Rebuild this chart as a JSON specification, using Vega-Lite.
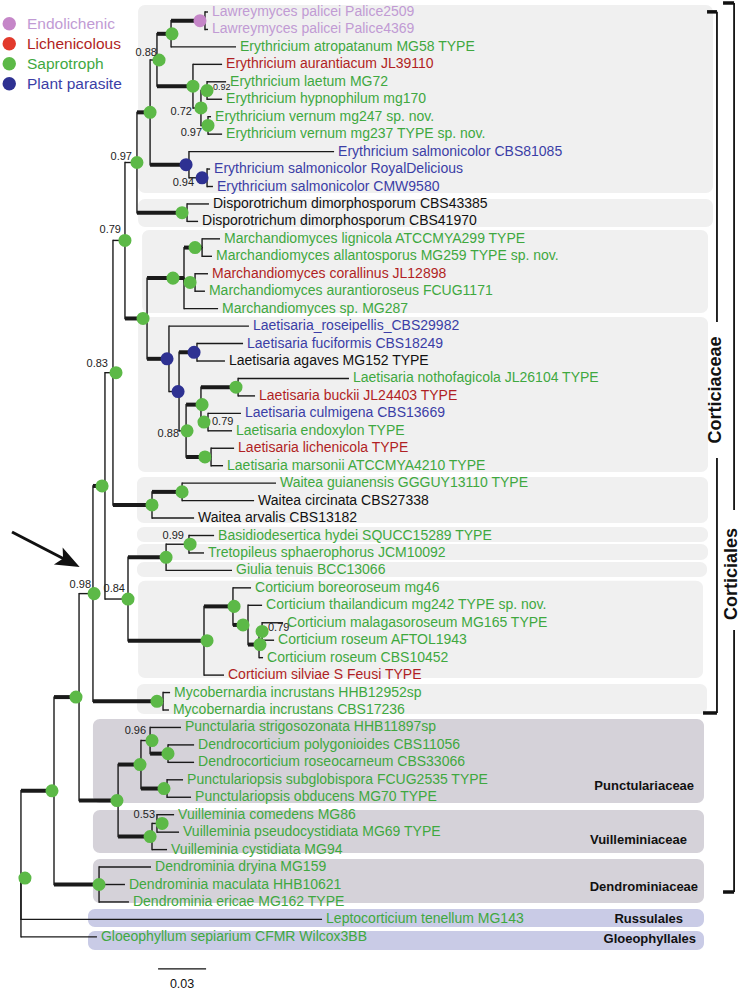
{
"$schema": "https://vega.github.io/schema/vega-lite/v6.json",
"width": 740, "height": 992,
"autosize": {"type": "none"},
"padding": 0,
"background": "white",
"config": {"font": "Liberation Sans", "view": {"stroke": null}, "axis": {"disable": true}},
"datasets": {
"boxes": [
{"clade":"Erythricium","x":0.0738,"x2":0.4331,"y":0.599,"y2":11.37,"tone":"family"},
{"clade":"Disporotrichum","x":0.0738,"x2":0.4331,"y":11.72,"y2":13.32,"tone":"family"},
{"clade":"Marchandiomyces","x":0.0763,"x2":0.43,"y":13.49,"y2":18.25,"tone":"family"},
{"clade":"Laetisaria","x":0.0738,"x2":0.43,"y":18.48,"y2":27.36,"tone":"family"},
{"clade":"Waitea","x":0.0731,"x2":0.43,"y":27.65,"y2":30.28,"tone":"family"},
{"clade":"Basidiodesertica","x":0.0731,"x2":0.43,"y":30.51,"y2":31.37,"tone":"family"},
{"clade":"Tretopileus","x":0.0731,"x2":0.43,"y":31.49,"y2":32.4,"tone":"family"},
{"clade":"Giulia","x":0.0731,"x2":0.4294,"y":32.52,"y2":33.38,"tone":"family"},
{"clade":"Corticium","x":0.0738,"x2":0.4269,"y":33.6,"y2":39.17,"tone":"family"},
{"clade":"Mycobernardia","x":0.0731,"x2":0.4294,"y":39.51,"y2":41.23,"tone":"family"},
{"clade":"Punctulariaceae","x":0.0456,"x2":0.4275,"y":41.51,"y2":46.33,"tone":"other"},
{"clade":"Vuilleminiaceae","x":0.0456,"x2":0.4275,"y":46.73,"y2":49.2,"tone":"other"},
{"clade":"Dendrominiaceae","x":0.0456,"x2":0.4275,"y":49.54,"y2":52.06,"tone":"other"},
{"clade":"Russulales","x":0.0425,"x2":0.4275,"y":52.4,"y2":53.44,"tone":"order"},
{"clade":"Gloeophyllales","x":0.0425,"x2":0.4275,"y":53.67,"y2":54.75,"tone":"order"}
],
"clades": [
{"node":"A","px":0.0006,"py":50.63,"cx":0.02125,"cy":45.63,"b":"thick"},
{"node":"C","px":0.02125,"py":45.63,"cx":0.0369,"cy":40.26,"b":"thick"},
{"node":"Dd","px":0.02125,"py":45.63,"cx":0.0494,"cy":51,"b":"thick"},
{"node":"E","px":0.0369,"py":40.26,"cx":0.0456,"cy":34.33,"b":"thin"},
{"node":"F","px":0.0369,"py":40.26,"cx":0.0613,"cy":46.19,"b":"thick"},
{"node":"R","px":0.0613,"py":46.19,"cx":0.0756,"cy":44.125,"b":"thick"},
{"node":"S","px":0.0613,"py":46.19,"cx":0.0825,"cy":48.25,"b":"thick"},
{"node":"T","px":0.0756,"py":44.125,"cx":0.0813,"cy":42.75,"b":"thin"},
{"node":"U","px":0.0756,"py":44.125,"cx":0.0919,"cy":45.5,"b":"thick"},
{"node":"V","px":0.0813,"py":42.75,"cx":0.0925,"cy":43.5,"b":"thick"},
{"node":"W","px":0.0825,"py":48.25,"cx":0.0856,"cy":47.5,"b":"thin"},
{"node":"G","px":0.0456,"py":34.33,"cx":0.0531,"cy":28.16,"b":"thick"},
{"node":"Myco","px":0.0456,"py":34.33,"cx":0.0894,"cy":40.5,"b":"thick"},
{"node":"H","px":0.0531,"py":28.16,"cx":0.0581,"cy":21.67,"b":"thin"},
{"node":"I","px":0.0531,"py":28.16,"cx":0.0675,"cy":34.64,"b":"thin"},
{"node":"J","px":0.0675,"py":34.64,"cx":0.0913,"cy":32.25,"b":"thick"},
{"node":"K","px":0.0675,"py":34.64,"cx":0.115,"cy":37.03,"b":"thick"},
{"node":"L","px":0.0913,"py":32.25,"cx":0.1056,"cy":31.5,"b":"thin"},
{"node":"M","px":0.115,"py":37.03,"cx":0.1331,"cy":35.0625,"b":"thick"},
{"node":"N","px":0.1331,"py":35.0625,"cx":0.1425,"cy":36.125,"b":"thick"},
{"node":"P","px":0.1425,"py":36.125,"cx":0.1494,"cy":37.25,"b":"thick"},
{"node":"Q","px":0.1494,"py":37.25,"cx":0.1513,"cy":36.5,"b":"thin"},
{"node":"N079","px":0.0581,"py":21.67,"cx":0.0656,"cy":14.09,"b":"thin"},
{"node":"WA","px":0.0581,"py":21.67,"cx":0.0825,"cy":29.25,"b":"thick"},
{"node":"WB","px":0.0825,"py":29.25,"cx":0.1013,"cy":28.5,"b":"thick"},
{"node":"N097","px":0.0656,"py":14.09,"cx":0.0731,"cy":9.625,"b":"thin"},
{"node":"X","px":0.0656,"py":14.09,"cx":0.0794,"cy":18.5625,"b":"thick"},
{"node":"Y","px":0.0731,"py":9.625,"cx":0.0813,"cy":6.75,"b":"thick"},
{"node":"Disp","px":0.0731,"py":9.625,"cx":0.1044,"cy":12.5,"b":"thick"},
{"node":"Z","px":0.0813,"py":6.75,"cx":0.0856,"cy":3.75,"b":"thin"},
{"node":"AA","px":0.0813,"py":6.75,"cx":0.1056,"cy":9.75,"b":"thick"},
{"node":"BB","px":0.0856,"py":3.75,"cx":0.0944,"cy":2.25,"b":"thick"},
{"node":"CC","px":0.0856,"py":3.75,"cx":0.1081,"cy":5.25,"b":"thick"},
{"node":"DD","px":0.0944,"py":2.25,"cx":0.1156,"cy":1.5,"b":"thick"},
{"node":"EE","px":0.1081,"py":5.25,"cx":0.1131,"cy":6.5,"b":"thin"},
{"node":"FF","px":0.1131,"py":6.5,"cx":0.1169,"cy":5.5,"b":"thin"},
{"node":"GG","px":0.1131,"py":6.5,"cx":0.1175,"cy":7.5,"b":"thin"},
{"node":"HH","px":0.1056,"py":9.75,"cx":0.1169,"cy":10.5,"b":"thin"},
{"node":"II","px":0.0794,"py":18.5625,"cx":0.1025,"cy":16.25,"b":"thick"},
{"node":"JJ","px":0.0794,"py":18.5625,"cx":0.0931,"cy":20.875,"b":"thick"},
{"node":"PA","px":0.1025,"py":16.25,"cx":0.1138,"cy":14.5,"b":"thick"},
{"node":"PB","px":0.1025,"py":16.25,"cx":0.1094,"cy":16.5,"b":"thin"},
{"node":"KK","px":0.0931,"py":20.875,"cx":0.0994,"cy":22.75,"b":"thin"},
{"node":"LL","px":0.0994,"py":22.75,"cx":0.1106,"cy":20.5,"b":"thick"},
{"node":"MM","px":0.0994,"py":22.75,"cx":0.1038,"cy":25,"b":"thin"},
{"node":"NN","px":0.1038,"py":25,"cx":0.1131,"cy":23.5,"b":"thick"},
{"node":"OO","px":0.1038,"py":25,"cx":0.1194,"cy":26.5,"b":"thick"},
{"node":"PP","px":0.1131,"py":23.5,"cx":0.1363,"cy":22.5,"b":"thick"},
{"node":"QQ","px":0.1131,"py":23.5,"cx":0.1175,"cy":24.5,"b":"thin"}
],
"leaves": [
{"taxon":"Lawreymyces palicei Palice2509","life":"Endolichenic","row":1,"len":0.1175,"px":0.1156,"py":1.5},
{"taxon":"Lawreymyces palicei Palice4369","life":"Endolichenic","row":2,"len":0.1175,"px":0.1156,"py":1.5},
{"taxon":"Erythricium atropatanum MG58 TYPE","life":"Saprotroph","row":3,"len":0.135,"px":0.0944,"py":2.25},
{"taxon":"Erythricium aurantiacum JL39110","life":"Lichenicolous","row":4,"len":0.1263,"px":0.1081,"py":5.25},
{"taxon":"Erythricium laetum MG72","life":"Saprotroph","row":5,"len":0.1288,"px":0.1169,"py":5.5},
{"taxon":"Erythricium hypnophilum mg170","life":"Saprotroph","row":6,"len":0.1263,"px":0.1169,"py":5.5},
{"taxon":"Erythricium vernum mg247 sp. nov.","life":"Saprotroph","row":7,"len":0.1194,"px":0.1175,"py":7.5},
{"taxon":"Erythricium vernum mg237 TYPE sp. nov.","life":"Saprotroph","row":8,"len":0.1263,"px":0.1175,"py":7.5},
{"taxon":"Erythricium salmonicolor CBS81085","life":"Plant parasite","row":9,"len":0.1963,"px":0.1056,"py":9.75},
{"taxon":"Erythricium salmonicolor RoyalDelicious","life":"Plant parasite","row":10,"len":0.1188,"px":0.1169,"py":10.5},
{"taxon":"Erythricium salmonicolor CMW9580","life":"Plant parasite","row":11,"len":0.1206,"px":0.1169,"py":10.5},
{"taxon":"Disporotrichum dimorphosporum CBS43385","life":"Unassigned","row":12,"len":0.1181,"px":0.1044,"py":12.5},
{"taxon":"Disporotrichum dimorphosporum CBS41970","life":"Unassigned","row":13,"len":0.1113,"px":0.1044,"py":12.5},
{"taxon":"Marchandiomyces lignicola ATCCMYA299 TYPE","life":"Saprotroph","row":14,"len":0.125,"px":0.1138,"py":14.5},
{"taxon":"Marchandiomyces allantosporus MG259 TYPE sp. nov.","life":"Saprotroph","row":15,"len":0.12,"px":0.1138,"py":14.5},
{"taxon":"Marchandiomyces corallinus JL12898","life":"Lichenicolous","row":16,"len":0.1175,"px":0.1094,"py":16.5},
{"taxon":"Marchandiomyces aurantioroseus FCUG1171","life":"Saprotroph","row":17,"len":0.1156,"px":0.1094,"py":16.5},
{"taxon":"Marchandiomyces sp. MG287","life":"Saprotroph","row":18,"len":0.1238,"px":0.1025,"py":16.25},
{"taxon":"Laetisaria_roseipellis_CBS29982","life":"Plant parasite","row":19,"len":0.1431,"px":0.0931,"py":20.875},
{"taxon":"Laetisaria fuciformis CBS18249","life":"Plant parasite","row":20,"len":0.1394,"px":0.1106,"py":20.5},
{"taxon":"Laetisaria agaves MG152 TYPE","life":"Unassigned","row":21,"len":0.1281,"px":0.1106,"py":20.5},
{"taxon":"Laetisaria nothofagicola JL26104 TYPE","life":"Saprotroph","row":22,"len":0.2056,"px":0.1363,"py":22.5},
{"taxon":"Laetisaria buckii JL24403 TYPE","life":"Lichenicolous","row":23,"len":0.1469,"px":0.1363,"py":22.5},
{"taxon":"Laetisaria culmigena CBS13669","life":"Plant parasite","row":24,"len":0.1381,"px":0.1175,"py":24.5},
{"taxon":"Laetisaria endoxylon TYPE","life":"Saprotroph","row":25,"len":0.1325,"px":0.1175,"py":24.5},
{"taxon":"Laetisaria lichenicola TYPE","life":"Lichenicolous","row":26,"len":0.1338,"px":0.1194,"py":26.5},
{"taxon":"Laetisaria marsonii ATCCMYA4210 TYPE","life":"Saprotroph","row":27,"len":0.1269,"px":0.1194,"py":26.5},
{"taxon":"Waitea guianensis GGGUY13110 TYPE","life":"Saprotroph","row":28,"len":0.16,"px":0.1013,"py":28.5},
{"taxon":"Waitea circinata CBS27338","life":"Unassigned","row":29,"len":0.1463,"px":0.1013,"py":28.5},
{"taxon":"Waitea arvalis CBS13182","life":"Unassigned","row":30,"len":0.1088,"px":0.0825,"py":29.25},
{"taxon":"Basidiodesertica hydei SQUCC15289 TYPE","life":"Saprotroph","row":31,"len":0.1213,"px":0.1056,"py":31.5},
{"taxon":"Tretopileus sphaerophorus JCM10092","life":"Saprotroph","row":32,"len":0.115,"px":0.1056,"py":31.5},
{"taxon":"Giulia tenuis BCC13066","life":"Saprotroph","row":33,"len":0.1325,"px":0.0913,"py":32.25},
{"taxon":"Corticium boreoroseum mg46","life":"Saprotroph","row":34,"len":0.1444,"px":0.1331,"py":35.0625},
{"taxon":"Corticium thailandicum mg242 TYPE sp. nov.","life":"Saprotroph","row":35,"len":0.1513,"px":0.1425,"py":36.125},
{"taxon":"Corticium malagasoroseum MG165 TYPE","life":"Saprotroph","row":36,"len":0.1644,"px":0.1513,"py":36.5},
{"taxon":"Corticium roseum AFTOL1943","life":"Saprotroph","row":37,"len":0.1588,"px":0.1513,"py":36.5},
{"taxon":"Corticium roseum CBS10452","life":"Saprotroph","row":38,"len":0.1519,"px":0.1494,"py":37.25},
{"taxon":"Corticium silviae S Feusi TYPE","life":"Lichenicolous","row":39,"len":0.1275,"px":0.115,"py":37.03},
{"taxon":"Mycobernardia incrustans HHB12952sp","life":"Saprotroph","row":40,"len":0.0938,"px":0.0894,"py":40.5},
{"taxon":"Mycobernardia incrustans CBS17236","life":"Saprotroph","row":41,"len":0.0931,"px":0.0894,"py":40.5},
{"taxon":"Punctularia strigosozonata HHB11897sp","life":"Saprotroph","row":42,"len":0.1006,"px":0.0813,"py":42.75},
{"taxon":"Dendrocorticium polygonioides CBS11056","life":"Saprotroph","row":43,"len":0.1088,"px":0.0925,"py":43.5},
{"taxon":"Dendrocorticium roseocarneum CBS33066","life":"Saprotroph","row":44,"len":0.1088,"px":0.0925,"py":43.5},
{"taxon":"Punctulariopsis subglobispora FCUG2535 TYPE","life":"Saprotroph","row":45,"len":0.1019,"px":0.0919,"py":45.5},
{"taxon":"Punctulariopsis obducens MG70 TYPE","life":"Saprotroph","row":46,"len":0.1069,"px":0.0919,"py":45.5},
{"taxon":"Vuilleminia comedens MG86","life":"Saprotroph","row":47,"len":0.0963,"px":0.0856,"py":47.5},
{"taxon":"Vuilleminia pseudocystidiata MG69 TYPE","life":"Saprotroph","row":48,"len":0.0994,"px":0.0856,"py":47.5},
{"taxon":"Vuilleminia cystidiata MG94","life":"Saprotroph","row":49,"len":0.0919,"px":0.0825,"py":48.25},
{"taxon":"Dendrominia dryina MG159","life":"Saprotroph","row":50,"len":0.0819,"px":0.0494,"py":51},
{"taxon":"Dendrominia maculata HHB10621","life":"Saprotroph","row":51,"len":0.0656,"px":0.0494,"py":51},
{"taxon":"Dendrominia ericae MG162 TYPE","life":"Saprotroph","row":52,"len":0.0681,"px":0.0494,"py":51},
{"taxon":"Leptocorticium tenellum MG143","life":"Saprotroph","row":53,"len":0.1888,"px":0.0006,"py":50.63},
{"taxon":"Gloeophyllum sepiarium CFMR Wilcox3BB","life":"Saprotroph","row":54,"len":0.0481,"px":0.0006,"py":50.63}
],
"nodes": [
{"node":"root","x":0.0031,"row":50.63,"life":"Saprotroph"},
{"node":"A","x":0.02,"row":45.63,"life":"Saprotroph"},
{"node":"C","x":0.035,"row":40.26,"life":"Saprotroph"},
{"node":"Dd","x":0.0494,"row":51,"life":"Saprotroph"},
{"node":"F","x":0.0606,"row":46.19,"life":"Saprotroph"},
{"node":"R","x":0.075,"row":44.125,"life":"Saprotroph"},
{"node":"T","x":0.0825,"row":42.75,"life":"Saprotroph"},
{"node":"V","x":0.0925,"row":43.5,"life":"Saprotroph"},
{"node":"U","x":0.09,"row":45.5,"life":"Saprotroph"},
{"node":"S","x":0.0813,"row":48.25,"life":"Saprotroph"},
{"node":"W","x":0.0888,"row":47.5,"life":"Saprotroph"},
{"node":"E","x":0.0463,"row":34.33,"life":"Saprotroph"},
{"node":"G","x":0.0513,"row":28.16,"life":"Saprotroph"},
{"node":"Myco","x":0.0856,"row":40.5,"life":"Saprotroph"},
{"node":"H","x":0.06,"row":21.67,"life":"Saprotroph"},
{"node":"I","x":0.0675,"row":34.64,"life":"Saprotroph"},
{"node":"J","x":0.0913,"row":32.25,"life":"Saprotroph"},
{"node":"L","x":0.1063,"row":31.5,"life":"Saprotroph"},
{"node":"K","x":0.1169,"row":37.03,"life":"Saprotroph"},
{"node":"M","x":0.1338,"row":35.0625,"life":"Saprotroph"},
{"node":"N","x":0.1394,"row":36.125,"life":"Saprotroph"},
{"node":"P","x":0.15,"row":37.25,"life":"Saprotroph"},
{"node":"Q","x":0.1513,"row":36.5,"life":"Saprotroph"},
{"node":"WA","x":0.0825,"row":29.25,"life":"Saprotroph"},
{"node":"WB","x":0.1013,"row":28.5,"life":"Saprotroph"},
{"node":"N079","x":0.0656,"row":14.09,"life":"Saprotroph"},
{"node":"N097","x":0.0731,"row":9.625,"life":"Saprotroph"},
{"node":"Y","x":0.0813,"row":6.75,"life":"Saprotroph"},
{"node":"Z","x":0.0869,"row":3.75,"life":"Saprotroph"},
{"node":"BB","x":0.095,"row":2.25,"life":"Saprotroph"},
{"node":"DD","x":0.1125,"row":1.5,"life":"Endolichenic"},
{"node":"CC","x":0.1081,"row":5.25,"life":"Saprotroph"},
{"node":"EE","x":0.1131,"row":6.5,"life":"Saprotroph"},
{"node":"FF","x":0.1169,"row":5.5,"life":"Saprotroph"},
{"node":"GG","x":0.1175,"row":7.5,"life":"Saprotroph"},
{"node":"AA","x":0.1038,"row":9.75,"life":"Plant parasite"},
{"node":"HH","x":0.1138,"row":10.5,"life":"Plant parasite"},
{"node":"Disp","x":0.1013,"row":12.5,"life":"Saprotroph"},
{"node":"X","x":0.0769,"row":18.5625,"life":"Saprotroph"},
{"node":"II","x":0.0956,"row":16.25,"life":"Saprotroph"},
{"node":"PA","x":0.1094,"row":14.5,"life":"Saprotroph"},
{"node":"PB","x":0.1063,"row":16.5,"life":"Saprotroph"},
{"node":"JJ","x":0.0919,"row":20.875,"life":"Plant parasite"},
{"node":"LL","x":0.1088,"row":20.5,"life":"Plant parasite"},
{"node":"KK","x":0.0988,"row":22.75,"life":"Plant parasite"},
{"node":"MM","x":0.1044,"row":25,"life":"Saprotroph"},
{"node":"NN","x":0.1138,"row":23.5,"life":"Saprotroph"},
{"node":"PP","x":0.135,"row":22.5,"life":"Saprotroph"},
{"node":"QQ","x":0.115,"row":24.5,"life":"Saprotroph"},
{"node":"OO","x":0.1156,"row":26.5,"life":"Saprotroph"}
],
"support": [
{"label":"0.88","x":0.0856,"row":3.35,"side":"before","space":"normal"},
{"label":"0.97","x":0.07,"row":9.31,"side":"before","space":"normal"},
{"label":"0.72","x":0.1075,"row":6.73,"side":"before","space":"normal"},
{"label":"0.97","x":0.1138,"row":7.93,"side":"before","space":"normal"},
{"label":"0.94","x":0.1088,"row":10.8,"side":"before","space":"normal"},
{"label":"0.79","x":0.0631,"row":13.49,"side":"before","space":"normal"},
{"label":"0.83","x":0.055,"row":21.17,"side":"before","space":"normal"},
{"label":"0.88","x":0.0994,"row":25.18,"side":"before","space":"normal"},
{"label":"0.98","x":0.0444,"row":33.84,"side":"before","space":"normal"},
{"label":"0.84","x":0.0656,"row":34.07,"side":"before","space":"normal"},
{"label":"0.99","x":0.1025,"row":31.03,"side":"before","space":"normal"},
{"label":"0.96","x":0.0788,"row":42.2,"side":"before","space":"normal"},
{"label":"0.53","x":0.0844,"row":47.02,"side":"before","space":"normal"},
{"label":"0.92","x":0.1206,"row":5.3,"side":"after","space":"tight"},
{"label":"0.79","x":0.12,"row":24.5,"side":"after","space":"normal"},
{"label":"0.79","x":0.155,"row":36.3,"side":"after","space":"normal"}
],
"groups": [
{"label":"Punctulariaceae","x":0.4213,"row":45.35},
{"label":"Vuilleminiaceae","x":0.4169,"row":48.45},
{"label":"Dendrominiaceae","x":0.4238,"row":51.14},
{"label":"Russulales","x":0.4144,"row":52.98},
{"label":"Gloeophyllales","x":0.4225,"row":54.12}
],
"brackets": [
{"clade":"Corticiaceae","x":0.4356,"x2":0.4356,"y":0.9914,"y2":18.76,"part":"spine"},
{"clade":"Corticiaceae","x":0.4356,"x2":0.4356,"y":26.56,"y2":41.17,"part":"spine"},
{"clade":"Corticiaceae","x":0.4294,"x2":0.4356,"y":0.9914,"y2":0.9914,"part":"tick"},
{"clade":"Corticiaceae","x":0.4269,"x2":0.4356,"y":41.17,"y2":41.17,"part":"tick"},
{"clade":"Corticiales","x":0.4463,"x2":0.4463,"y":0.484,"y2":29.54,"part":"spine"},
{"clade":"Corticiales","x":0.4463,"x2":0.4463,"y":36.42,"y2":51.43,"part":"spine"},
{"clade":"Corticiales","x":0.4394,"x2":0.4463,"y":0.484,"y2":0.484,"part":"tick"},
{"clade":"Corticiales","x":0.4394,"x2":0.4463,"y":51.43,"y2":51.43,"part":"tick"}
],
"bracketLabels": [
{"label":"Corticiaceae","x":0.4353,"row":22.66},
{"label":"Corticiales","x":0.4453,"row":33.21}
],
"scalebar": [
{"x":0.0863,"x2":0.1163,"row":55.84,"mid":0.1013,"labelRow":56.68,"label":"0.03"}
],
"arrow": [
{"x":-0.005,"y":30.8,"x2":0.0306,"y2":32.49}
]
},
"layer": [
{"data":{"name":"boxes"},"mark":{"type":"rect","cornerRadius":7},
 "encoding":{
  "x":{"field":"x","type":"quantitative","scale":{"domain":[-0.0125,0.45],"nice":false,"zero":false},"axis":null},
  "x2":{"field":"x2"},
  "y":{"field":"y","type":"quantitative","scale":{"domain":[0.3123,57.16],"nice":false,"zero":false,"reverse":true},"axis":null},
  "y2":{"field":"y2"},
  "fill":{"condition":[{"test":"datum.tone==='order'","value":"#c9cbe6"},{"test":"datum.tone==='other'","value":"#d5d2d9"}],"value":"#f0f0f0"}}},
{"data":{"name":"clades"},"mark":{"type":"rule","color":"#1a1a1a","strokeWidth":1.4,"strokeCap":"square"},
 "encoding":{"x":{"field":"px","type":"quantitative"},"y":{"field":"py","type":"quantitative"},"y2":{"field":"cy"}}},
{"data":{"name":"clades"},"mark":{"type":"rule","color":"#1a1a1a"},
 "encoding":{"x":{"field":"px","type":"quantitative"},"x2":{"field":"cx"},"y":{"field":"cy","type":"quantitative"},
  "strokeWidth":{"condition":{"test":"datum.b==='thick'","value":4},"value":1.4}}},
{"data":{"name":"leaves"},"mark":{"type":"rule","color":"#1a1a1a","strokeWidth":1.4,"strokeCap":"square"},
 "encoding":{"x":{"field":"px","type":"quantitative"},"y":{"field":"py","type":"quantitative"},"y2":{"field":"row"}}},
{"data":{"name":"leaves"},"mark":{"type":"rule","color":"#1a1a1a","strokeWidth":1.4},
 "encoding":{"x":{"field":"px","type":"quantitative"},"x2":{"field":"len"},"y":{"field":"row","type":"quantitative"}}},
{"data":{"name":"brackets"},"mark":{"type":"rule","color":"#111111"},
 "encoding":{"x":{"field":"x","type":"quantitative"},"x2":{"field":"x2"},"y":{"field":"y","type":"quantitative"},"y2":{"field":"y2"},
  "strokeWidth":{"condition":{"test":"datum.part==='tick'","value":3.5},"value":1.8}}},
{"data":{"name":"scalebar"},"mark":{"type":"rule","color":"#111111","strokeWidth":1.3},
 "encoding":{"x":{"field":"x","type":"quantitative"},"x2":{"field":"x2"},"y":{"field":"row","type":"quantitative"}}},
{"data":{"name":"arrow"},"mark":{"type":"rule","color":"#111111","strokeWidth":3},
 "encoding":{"x":{"field":"x","type":"quantitative"},"x2":{"field":"x2"},"y":{"field":"y","type":"quantitative"},"y2":{"field":"y2"}}},
{"data":{"name":"arrow"},"mark":{"type":"point","filled":true,"color":"#111111","opacity":1,"size":576,"angle":27,"shape":"M1,0L-1,-0.8L-0.55,0L-1,0.8Z"},
 "encoding":{"x":{"field":"x2","type":"quantitative"},"y":{"field":"y2","type":"quantitative"}}},
{"data":{"name":"nodes"},"mark":{"type":"point","filled":true,"opacity":1,"size":170,"shape":"circle","strokeWidth":0},
 "encoding":{"x":{"field":"x","type":"quantitative"},"y":{"field":"row","type":"quantitative"},
  "fill":{"field":"life","type":"nominal",
   "scale":{"domain":["Endolichenic","Lichenicolous","Saprotroph","Plant parasite"],"range":["#c586c8","#e23a2c","#5cb947","#2e3192"]},
   "legend":{"orient":"none","legendX":1.5,"legendY":16,"title":null,"symbolType":"circle","symbolSize":180,"symbolStrokeWidth":0,"symbolOpacity":1,
    "labelFontSize":15.5,"labelFont":"Liberation Sans","labelOffset":10,"rowPadding":3,"padding":0,"labelLimit":300,
    "encode":{"labels":{"update":{"fill":{"signal":"scale('color', datum.value)"}}}}}}}},
{"data":{"name":"leaves"},"mark":{"type":"text","align":"left","baseline":"middle","dx":4,"fontSize":14},
 "encoding":{"x":{"field":"len","type":"quantitative"},"y":{"field":"row","type":"quantitative"},"text":{"field":"taxon"},
  "color":{"field":"life","type":"nominal",
   "scale":{"domain":["Endolichenic","Lichenicolous","Saprotroph","Plant parasite","Unassigned"],"range":["#c19bd4","#b01f24","#3fa83f","#3b3ea6","#111111"]},
   "legend":null}}},
{"data":{"name":"support"},"transform":[{"filter":"datum.side==='before'"}],"mark":{"type":"text","align":"right","baseline":"middle","color":"#222222"},
 "encoding":{"x":{"field":"x","type":"quantitative"},"y":{"field":"row","type":"quantitative"},"text":{"field":"label"},
  "size":{"condition":{"test":"datum.space==='tight'","value":9},"value":11}}},
{"data":{"name":"support"},"transform":[{"filter":"datum.side==='after'"}],"mark":{"type":"text","align":"left","baseline":"middle","color":"#222222"},
 "encoding":{"x":{"field":"x","type":"quantitative"},"y":{"field":"row","type":"quantitative"},"text":{"field":"label"},
  "size":{"condition":{"test":"datum.space==='tight'","value":9},"value":11}}},
{"data":{"name":"groups"},"mark":{"type":"text","align":"right","baseline":"middle","fontSize":13,"fontWeight":"bold","color":"#111111"},
 "encoding":{"x":{"field":"x","type":"quantitative"},"y":{"field":"row","type":"quantitative"},"text":{"field":"label"}}},
{"data":{"name":"bracketLabels"},"mark":{"type":"text","align":"center","baseline":"middle","angle":270,"fontSize":18,"fontWeight":"bold","color":"#111111"},
 "encoding":{"x":{"field":"x","type":"quantitative"},"y":{"field":"row","type":"quantitative"},"text":{"field":"label"}}},
{"data":{"name":"scalebar"},"mark":{"type":"text","align":"center","baseline":"middle","fontSize":12.5,"color":"#111111"},
 "encoding":{"x":{"field":"mid","type":"quantitative"},"y":{"field":"labelRow","type":"quantitative"},"text":{"field":"label"}}}
]
}
